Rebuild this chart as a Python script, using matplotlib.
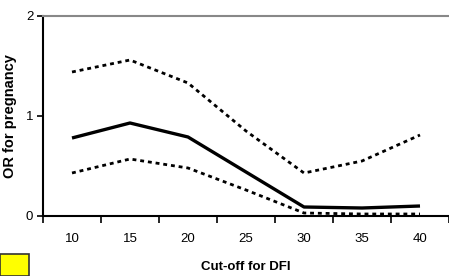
import numpy as np
import matplotlib
matplotlib.use("Agg")
import matplotlib.pyplot as plt
from matplotlib.patches import Rectangle

plt.rcParams['font.family'] = ['Liberation Sans', 'DejaVu Sans']

cutoffs = ['10', '15', '20', '25', '30', '35', '40']
odds_ratio = [0.78, 0.93, 0.79, 0.44, 0.09, 0.08, 0.10]
upper_ci = [1.44, 1.56, 1.33, 0.85, 0.43, 0.55, 0.81]
lower_ci = [0.43, 0.57, 0.48, 0.26, 0.03, 0.02, 0.02]

fig = plt.figure(figsize=(4.49, 2.76), dpi=100)
ax = fig.add_axes([43/449, 1 - 216/276, 1 - 43/449, 200/276])

x = np.arange(len(cutoffs))
ax.plot(x, upper_ci, color='black', lw=2.0, ls=(0, (1.4, 1.4)))
ax.plot(x, odds_ratio, color='black', lw=2.4, solid_capstyle='butt')
ax.plot(x, lower_ci, color='black', lw=2.0, ls=(0, (1.4, 1.4)))

ax.set_xlim(-0.5, 6.47)
ax.set_ylim(0, 2)
ax.set_yticks([0, 1, 2])
ax.set_yticklabels(['0', '1', '2'], fontsize=9.5)

# tick marks between categories, labels at category centres
ax.set_xticks(np.arange(-0.5, 7, 1))
ax.set_xticklabels([])
ax.set_xticks(x, minor=True)
ax.set_xticklabels(cutoffs, minor=True, fontsize=9.5)
ax.tick_params(axis='x', which='major', direction='out', length=5, width=1.2)
ax.tick_params(axis='x', which='minor', length=0, pad=12)
ax.tick_params(axis='y', direction='out', length=4, width=1.2, pad=3)

ax.spines['left'].set_linewidth(1.5)
ax.spines['bottom'].set_linewidth(1.5)
ax.spines['top'].set_color('#888888')
ax.spines['top'].set_linewidth(1.5)
ax.spines['right'].set_visible(False)

ax.set_xlabel('Cut-off for DFI', fontsize=9.5, fontweight='bold', labelpad=12)
ax.set_ylabel('OR for pregnancy', fontsize=10.5, fontweight='bold', labelpad=6)

fig.patches.append(Rectangle((0, 0), 29/449, 22/276, transform=fig.transFigure,
                             facecolor='#ffff00', edgecolor='#333333', lw=1.2))

fig.savefig('out.png', dpi=100)
